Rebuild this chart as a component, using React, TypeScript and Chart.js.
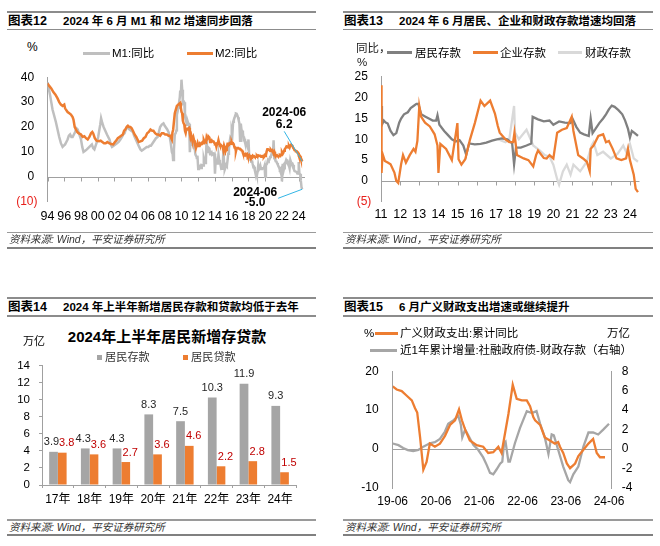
import { useEffect, useRef } from 'react';
import { Chart, registerables } from 'chart.js';

Chart.register(...registerables);

const FONT = '"Liberation Sans", Arial, "Noto Sans CJK SC", sans-serif';
const ORANGE = '#ED7D31';
const AXIS = '#A0A0A0';
const RED = '#E8201B';
const DARKRED = '#C00000';
const CYAN = '#33B5E5';

// ---------------- Panel 12: M1 / M2 ----------------
const p12Num = '图表12';
const p12Title = '2024 年 6 月 M1 和 M2 增速同步回落';
const m1Label = 'M1:同比';
const m2Label = 'M2:同比';
const p12XTicks = [1994, 1996, 1998, 2000, 2002, 2004, 2006, 2008, 2010, 2012, 2014, 2016, 2018, 2020, 2022, 2024];
const p12YTicks = [-10, 0, 10, 20, 30, 40];
const lastDateLabel = '2024-06';

const m1EarlyDates = [1994.0, 1994.15, 1994.3, 1994.45, 1994.6, 1994.8, 1995.0, 1995.2, 1995.4, 1995.6, 1995.8, 1995.95, 1996.1, 1996.25, 1996.4, 1996.55, 1996.7, 1996.85, 1997.0, 1997.15, 1997.3, 1997.45, 1997.6, 1997.8, 1998.0, 1998.15, 1998.3, 1998.5, 1998.7, 1998.85, 1999.0, 1999.15, 1999.3, 1999.45, 1999.6, 1999.75, 1999.9, 2000.05, 2000.15, 2000.3, 2000.4, 2000.55, 2000.7, 2000.9, 2001.1, 2001.25, 2001.4, 2001.55, 2001.7, 2001.9, 2002.1, 2002.3, 2002.5, 2002.7, 2002.9, 2003.05, 2003.2, 2003.35, 2003.5, 2003.65, 2003.8, 2004.0, 2004.2, 2004.35, 2004.55, 2004.75, 2004.95, 2005.1, 2005.25, 2005.45, 2005.65, 2005.85, 2006.05, 2006.2, 2006.35, 2006.55, 2006.75, 2006.95, 2007.15, 2007.3, 2007.45, 2007.65, 2007.85, 2008.0, 2008.1, 2008.3, 2008.45, 2008.6, 2008.7, 2008.85, 2008.95, 2009.0, 2009.1, 2009.2, 2009.3, 2009.4, 2009.45, 2009.55, 2009.6, 2009.7, 2009.8, 2009.85, 2009.92];
const m1EarlyValues = [38, 35.5, 33, 30, 27, 24.5, 22, 19, 16, 13.5, 12, 12.5, 13, 14, 15, 16.5, 17, 16, 16, 17, 18, 19.5, 19, 17, 15, 12, 10, 10.5, 11, 11.5, 12, 12.5, 13, 11.5, 11, 12.5, 14, 16, 18, 21, 23.5, 21.5, 20, 18.5, 17, 16, 15, 13, 12, 12.5, 13, 13.5, 14, 15, 16, 17, 17.5, 19, 20, 19.5, 19, 18.5, 18, 16.5, 15, 13.5, 12, 11, 10.5, 11, 11.5, 12, 12, 12.5, 12.5, 13.5, 14.5, 15.5, 16, 18, 20, 21, 21.5, 20.5, 20, 19, 18, 16, 14, 10, 9, 6.7, 10.9, 17, 17.5, 18.7, 24.8, 26.4, 27.7, 29.5, 32, 34.6, 32.4];
// monthly, Jan 2010 - Jun 2024
const m1Monthly = [
  39.0, 35.0, 29.9, 30.4, 29.9, 24.6, 22.9, 21.9, 20.9, 22.1, 21.2, 21.2,
  9.9, 14.5, 15.0, 12.9, 12.7, 13.1, 11.6, 11.2, 8.9, 8.4, 7.8, 7.9,
  3.1, 4.3, 4.4, 3.5, 3.5, 4.7, 4.6, 4.5, 7.3, 6.1, 5.5, 6.5,
  15.3, 9.5, 11.9, 11.9, 11.3, 9.1, 9.7, 9.9, 8.9, 8.9, 9.4, 9.3,
  1.2, 6.9, 5.4, 5.3, 5.7, 8.9, 6.7, 5.7, 4.8, 3.2, 3.2, 3.2,
  10.6, 5.6, 2.9, 3.7, 4.7, 4.3, 6.6, 9.3, 11.4, 14.0, 15.7, 15.2,
  18.6, 17.4, 22.1, 22.9, 23.7, 24.6, 25.4, 25.3, 24.7, 23.9, 22.7, 21.4,
  14.5, 21.4, 18.8, 18.5, 17.7, 15.0, 15.3, 14.0, 14.0, 13.0, 12.7, 11.8,
  15.0, 8.5, 7.1, 7.2, 6.0, 6.6, 5.1, 3.9, 4.0, 2.7, 1.5, 1.5,
  0.4, 2.0, 4.6, 2.9, 3.4, 4.4, 3.1, 3.4, 3.4, 3.3, 3.5, 4.4,
  0.0, 4.8, 5.0, 5.5, 6.8, 6.5, 6.9, 8.0, 8.1, 9.1, 10.0, 8.6,
  14.7, 7.4, 7.1, 6.2, 6.1, 5.5, 4.9, 4.2, 3.7, 2.8, 3.0, 3.5,
  -1.9, 4.7, 4.7, 5.1, 4.6, 5.8, 6.7, 6.1, 6.4, 5.8, 4.6, 3.7,
  6.7, 5.8, 5.1, 5.3, 4.7, 3.1, 2.3, 2.2, 2.1, 1.9, 1.3, 1.3,
  5.9, 1.2, 1.1, -1.4, -4.2, -5.0,
];

const m2EarlyDates = [1994.0, 1994.2, 1994.45, 1994.7, 1994.95, 1995.2, 1995.4, 1995.6, 1995.8, 1996.0, 1996.1, 1996.4, 1996.6, 1996.8, 1997.0, 1997.1, 1997.25, 1997.4, 1997.55, 1997.7, 1998.0, 1998.2, 1998.4, 1998.6, 1998.8, 1999.0, 1999.2, 1999.35, 1999.45, 1999.65, 1999.85, 2000.15, 2000.35, 2000.55, 2000.75, 2000.95, 2001.15, 2001.35, 2001.6, 2001.85, 2002.05, 2002.2, 2002.4, 2002.6, 2002.8, 2003.0, 2003.15, 2003.3, 2003.45, 2003.6, 2003.75, 2003.9, 2004.05, 2004.2, 2004.4, 2004.6, 2004.75, 2004.9, 2005.1, 2005.3, 2005.5, 2005.7, 2005.9, 2006.1, 2006.3, 2006.5, 2006.65, 2006.85, 2007.05, 2007.25, 2007.45, 2007.65, 2007.85, 2008.05, 2008.25, 2008.45, 2008.65, 2008.85, 2008.92, 2009.0, 2009.2, 2009.45, 2009.7, 2009.85, 2009.92];
const m2EarlyValues = [37.5, 36.5, 35.5, 34, 33, 31.5, 30, 29, 28.5, 29, 27.5, 26, 25.5, 25, 24, 23, 20, 19, 18, 17.5, 17, 16, 16.3, 15.5, 15, 16, 17.5, 18, 17.5, 15.5, 14.5, 14.3, 14.5, 14, 13.5, 13.5, 14, 13.5, 13.2, 13, 14, 14.5, 15.5, 16, 16.5, 17, 18.5, 19, 20, 20.5, 20, 20, 19.5, 18.5, 17, 16, 15, 14, 14.2, 14.5, 15.5, 16, 17.5, 18, 19, 18.5, 18.5, 17.5, 17, 17, 16.5, 17.5, 17.5, 17, 17, 16.5, 16.5, 15, 17.8, 18.8, 25.5, 28.5, 29.3, 29.7, 27.7];
const m2Monthly = [
  26.1, 25.5, 22.5, 21.5, 21.0, 18.5, 17.6, 19.2, 19.0, 19.3, 19.5, 19.7,
  17.2, 15.7, 16.6, 15.3, 15.1, 15.9, 14.7, 13.5, 13.0, 12.9, 12.7, 13.6,
  12.4, 13.0, 13.4, 12.8, 13.2, 13.6, 13.9, 13.5, 14.8, 14.1, 13.9, 13.8,
  15.9, 15.2, 15.7, 16.1, 15.8, 14.0, 14.5, 14.7, 14.2, 14.3, 14.2, 13.6,
  13.2, 13.3, 12.1, 13.2, 13.4, 14.7, 13.5, 12.8, 12.9, 12.6, 12.3, 12.2,
  10.8, 12.5, 11.6, 10.1, 10.8, 11.8, 13.3, 13.3, 13.1, 13.5, 13.7, 13.3,
  14.0, 13.3, 13.4, 12.8, 11.8, 11.8, 10.2, 11.4, 11.5, 11.6, 11.4, 11.3,
  11.3, 11.1, 10.6, 10.5, 9.6, 9.4, 9.2, 8.9, 9.2, 8.8, 9.1, 8.2,
  8.6, 8.8, 8.2, 8.3, 8.3, 8.0, 8.5, 8.2, 8.3, 8.0, 8.0, 8.1,
  8.4, 8.0, 8.6, 8.5, 8.5, 8.5, 8.1, 8.2, 8.4, 8.4, 8.2, 8.7,
  8.4, 8.8, 10.1, 11.1, 11.1, 11.1, 10.7, 10.4, 10.9, 10.5, 10.7, 10.1,
  9.4, 10.1, 9.4, 8.1, 8.3, 8.6, 8.3, 8.2, 8.3, 8.7, 8.5, 9.0,
  9.8, 9.2, 9.7, 10.5, 11.1, 11.4, 12.0, 12.2, 12.1, 11.8, 12.4, 11.8,
  12.6, 12.9, 12.7, 12.4, 11.6, 11.3, 10.7, 10.6, 10.3, 10.3, 10.0, 9.7,
  8.7, 8.7, 8.3, 7.2, 7.0, 6.2,
];
const monthlyStartYear = 2010;

// ---------------- Panel 13: deposits by sector ----------------
const p13Num = '图表13';
const p13Title = '2024 年 6 月居民、企业和财政存款增速均回落';
const hhLabel = '居民存款';
const corpLabel = '企业存款';
const fiscLabel = '财政存款';
const p13XTicks = [2011, 2012, 2013, 2014, 2015, 2016, 2017, 2018, 2019, 2020, 2021, 2022, 2023, 2024];
const p13YTicks = [-5, 0, 5, 10, 15, 20, 25];

const hhDates = [2011.0, 2011.05, 2011.15, 2011.25, 2011.35, 2011.5, 2011.65, 2011.8, 2011.95, 2012.05, 2012.2, 2012.4, 2012.55, 2012.7, 2012.85, 2012.95, 2013.1, 2013.3, 2013.5, 2013.7, 2013.88, 2013.95, 2014.05, 2014.3, 2014.5, 2014.7, 2014.9, 2015.1, 2015.3, 2015.45, 2015.6, 2015.9, 2016.2, 2016.5, 2016.8, 2017.05, 2017.3, 2017.6, 2017.85, 2017.95, 2018.05, 2018.3, 2018.6, 2018.85, 2018.92, 2019.2, 2019.5, 2019.8, 2020.0, 2020.3, 2020.6, 2020.9, 2021.0, 2021.2, 2021.4, 2021.6, 2021.85, 2021.95, 2022.05, 2022.2, 2022.4, 2022.6, 2022.75, 2022.9, 2023.05, 2023.2, 2023.4, 2023.6, 2023.75, 2023.9, 2024.0, 2024.1, 2024.25, 2024.42];
const hhValues = [18, 13.5, 14.5, 14, 13.8, 12, 11, 11.5, 14, 15, 16, 16.5, 17.5, 18, 18.5, 18.5, 16, 15.5, 15, 14.5, 14.5, 15.8, 13.5, 12, 11, 10, 9.5, 9.8, 8.5, 6.3, 9, 8.8, 8.9, 9.2, 9.7, 10, 10.2, 10, 9, 4, 8, 8, 8.5, 9, 15.4, 14.8, 14.3, 14.5, 13.5, 14.3, 14, 13.9, 15, 13, 11.6, 11.2, 10.8, 15, 11.5, 12.5, 13.9, 15, 16, 17.2, 18.1, 17.8, 17, 16, 14.5, 12.5, 10.4, 12, 11.5, 10.8];

const corpDates = [2011.0, 2011.03, 2011.08, 2011.2, 2011.35, 2011.5, 2011.7, 2011.8, 2011.9, 2012.05, 2012.15, 2012.3, 2012.5, 2012.7, 2012.8, 2012.9, 2013.0, 2013.1, 2013.3, 2013.55, 2013.8, 2013.95, 2014.0, 2014.1, 2014.4, 2014.7, 2014.99, 2015.05, 2015.2, 2015.4, 2015.65, 2015.9, 2016.2, 2016.4, 2016.7, 2016.95, 2017.1, 2017.2, 2017.5, 2017.7, 2017.9, 2017.97, 2018.1, 2018.45, 2018.7, 2018.95, 2019.1, 2019.2, 2019.5, 2019.65, 2019.8, 2020.0, 2020.2, 2020.45, 2020.7, 2020.96, 2021.05, 2021.3, 2021.55, 2021.75, 2021.9, 2021.95, 2022.1, 2022.35, 2022.6, 2022.75, 2022.9, 2023.1, 2023.3, 2023.55, 2023.8, 2023.9, 2024.0, 2024.2, 2024.3, 2024.42];
const corpValues = [23, 1.9, 6.5, 4.8, 4.4, 4, 2, 0, -0.5, 4, 6.2, 4.4, 6.2, 7.7, 7, 9.6, 18, 15.4, 14, 13.1, 11.2, 8.5, 1.9, 8.9, 7.7, 5, 13.9, 5.2, 3.9, 5.2, 10, 13.9, 19.3, 18, 19.3, 16.2, 13.2, 11.6, 10, 9.3, 9.3, 11.6, 6.2, 5.4, 5, 3.5, 6.2, 7.3, 5.5, 5.4, 6.2, 5.4, 11.6, 12.3, 12.7, 15.4, 12, 6.2, 5.4, 4.6, 2.3, 7.7, 8.5, 10.8, 11.2, 9.3, 9.6, 7.7, 5.4, 5, 5.4, 7.7, 5, 1.5, -1.9, -2.7];

const fiscDates = [2017.1, 2017.5, 2017.7, 2017.95, 2018.0, 2018.2, 2018.6, 2018.95, 2019.3, 2019.55, 2019.8, 2020.0, 2020.2, 2020.3, 2020.5, 2020.7, 2020.9, 2021.05, 2021.4, 2021.75, 2022.0, 2022.1, 2022.3, 2022.6, 2023.0, 2023.35, 2023.65, 2023.8, 2024.0, 2024.2, 2024.42];
const fiscValues = [10, 9.3, 10, 18, 11.6, 10, 12.3, 8.5, 7.3, 6.2, 5.8, 3.9, 0.4, -0.9, 2.3, 3.9, 1.5, 3.9, 2.3, 4.6, 8.5, 9.3, 6.2, 7, 5.4, 6.5, 8.5, 7, 8.9, 5.4, 4.6];

// ---------------- Panel 14: household deposits & loans ----------------
const p14Num = '图表14';
const p14Title = '2024 年上半年新增居民存款和贷款均低于去年';
const p14ChartTitle = '2024年上半年居民新增存贷款';
const p14Unit = '万亿';
const p14Categories = ['17年', '18年', '19年', '20年', '21年', '22年', '23年', '24年'];
const depositLabel = '居民存款';
const loanLabel = '居民贷款';
const depositValues = [3.9, 4.3, 4.3, 8.3, 7.5, 10.3, 11.9, 9.3];
const loanValues = [3.8, 3.6, 2.7, 3.6, 4.6, 2.2, 2.8, 1.5];
const p14YTicks = [0, 2, 4, 6, 8, 10, 12, 14];

// ---------------- Panel 15: broad fiscal spending ----------------
const p15Num = '图表15';
const p15Title = '6 月广义财政支出增速或继续提升';
const fiscalLabel = '广义财政支出:累计同比';
const creditLabel = '近1年累计增量:社融政府债-财政存款（右轴）';
const p15XLabels = ['19-06', '20-06', '21-06', '22-06', '23-06', '24-06'];
const p15XTicks = [0, 12, 24, 36, 48, 60]; // months since 2019-06
const p15LeftTicks = [-10, 0, 10, 20];
const p15RightTicks = [-4, -2, 0, 2, 4, 6, 8];

const fiscalMonths = [0, 1.1, 2.5, 3.9, 5.3, 6.2, 6.8, 7.6, 8.5, 9.4, 10.3, 11.7, 13.1, 14.5, 15.9, 17.3, 18.4, 19.2, 20.1, 21.4, 23.3, 25.1, 26.5, 27.9, 29.3, 30.2, 32.1, 33.3, 34.4, 35.8, 37.2, 38.1, 39.0, 39.5, 40.9, 42.2, 43.6, 45.0, 45.9, 46.4, 47.3, 48.3, 49.2, 50.6, 51.5, 52.9, 54.3, 55.6, 56.6, 57.5, 58.9];
const fiscalYoY = [16.1, 15.3, 14.9, 13.7, 12.5, 10.5, 9.4, 3, -5.3, -3.3, 1.4, 0.6, 1.4, 3.4, 6.2, 7.4, 10.2, 7.4, 5, 2.2, 1, 0.6, -1, -0.8, 0.6, -1, 9, 16.5, 12.9, 12.5, 12.5, 11, 8.2, 7.4, 6.2, 3, 2.2, 1.4, 1.8, 0.6, -1, -3.7, -4.9, -3.7, -1.8, -0.2, 1.4, 2.6, -1, -2.1, -2.1];

const creditMonths = [0, 1.6, 2.9, 4.2, 5.7, 7.1, 8.5, 10.3, 11.7, 13.1, 14.5, 15.4, 16.8, 18.2, 18.9, 19.3, 20.1, 21.0, 22.4, 23.7, 25.1, 26.1, 27.0, 27.9, 28.8, 29.8, 30.4, 30.9, 31.3, 32.1, 32.5, 33.9, 35.3, 37.2, 38.6, 39.9, 40.9, 42.2, 43.2, 44.1, 44.7, 45.9, 47.3, 48.7, 49.2, 50.1, 51.5, 52.9, 54.3, 55.6, 57.0, 58.4, 60];
const creditNet = [0.57, 0.4, 0.1, -0.1, -0.2, -0.1, 0.25, 0.6, 0.7, 1.05, 1.8, 2.6, 2.95, 3.4, 2.5, 1.2, 2.0, 1.4, 0.4, -0.07, -0.86, -1.65, -2.45, -2.6, -2.1, -1.5, -1.3, 0.6, 0.75, -1.3, -1.3, 0.6, 2.15, 3.9, 3.7, 3.9, 2.6, 1.2, -0.5, 1.5, 1.4, -0.07, -1.8, -3.2, -3.4, -2.6, -1.8, 0.26, 1.7, 1.7, 1.5, 2.0, 2.6];

const sourceText = '资料来源: Wind，平安证券研究所';

// ---------------- helpers ----------------
const pts = (xs: number[], ys: number[]) => xs.map((x, i) => ({ x, y: ys[i] }));
const monthlyPts = (start: number, ys: number[]) => ys.map((y, i) => ({ x: start + i / 12, y }));

const setTicks = (vals: number[]) => (s: any) => {
  s.ticks = vals.map((v) => ({ value: v }));
};

const baseOpts = () => ({
  responsive: false,
  maintainAspectRatio: false,
  animation: false as const,
  events: [] as any[],
});

const zeroLinePlugin = {
  id: 'zeroLine',
  beforeDatasetsDraw(chart: any, _a: any, opts: any) {
    const { ctx, chartArea } = chart;
    const ys = chart.scales[opts.yAxis || 'y'];
    const y = Math.round(ys.getPixelForValue(0)) + 0.5;
    ctx.save();
    ctx.strokeStyle = opts.color || AXIS;
    ctx.lineWidth = 1;
    ctx.beginPath();
    ctx.moveTo(chartArea.left, y);
    ctx.lineTo(chartArea.right, y);
    if (opts.tickLength) {
      const xs = chart.scales.x;
      for (const t of xs.ticks) {
        const x = Math.round(xs.getPixelForValue(t.value)) + 0.5;
        ctx.moveTo(x, y);
        ctx.lineTo(x, y + opts.tickLength);
      }
    }
    ctx.stroke();
    ctx.restore();
  },
};

const p12AnnotPlugin = {
  id: 'p12Annot',
  afterDatasetsDraw(chart: any) {
    const { ctx } = chart;
    const xs = chart.scales.x;
    const ys = chart.scales.y;
    const lastX = monthlyStartYear + (m2Monthly.length - 1) / 12;
    const m2Last = m2Monthly[m2Monthly.length - 1];
    const m1Last = m1Monthly[m1Monthly.length - 1];
    const px = xs.getPixelForValue(lastX);
    const p2 = ys.getPixelForValue(m2Last);
    const p1 = ys.getPixelForValue(m1Last);
    ctx.save();
    ctx.strokeStyle = CYAN;
    ctx.lineWidth = 1;
    ctx.beginPath();
    ctx.moveTo(px, p2);
    ctx.lineTo(px - 18, p2 - 30);
    ctx.moveTo(px, p1);
    ctx.lineTo(px - 24, p1 + 9);
    ctx.stroke();
    ctx.fillStyle = '#000';
    ctx.font = `bold 12px ${FONT}`;
    ctx.textAlign = 'center';
    ctx.textBaseline = 'middle';
    ctx.fillText(lastDateLabel, px - 18, p2 - 48.5);
    ctx.fillText(m2Last.toFixed(1), px - 18, p2 - 36.5);
    ctx.fillText(lastDateLabel, px - 47, p1 + 3.5);
    ctx.fillText(m1Last.toFixed(1), px - 47, p1 + 13.5);
    ctx.restore();
  },
};

const barLabelPlugin = {
  id: 'barLabels',
  afterDatasetsDraw(chart: any) {
    const { ctx } = chart;
    const meta0 = chart.getDatasetMeta(0);
    const meta1 = chart.getDatasetMeta(1);
    const d0 = chart.data.datasets[0].data;
    const d1 = chart.data.datasets[1].data;
    ctx.save();
    ctx.font = `11px ${FONT}`;
    ctx.textAlign = 'center';
    ctx.textBaseline = 'bottom';
    meta0.data.forEach((b0: any, i: number) => {
      const b1 = meta1.data[i];
      const t0 = Number(d0[i]).toFixed(1);
      const t1 = Number(d1[i]).toFixed(1);
      const w0 = ctx.measureText(t0).width;
      const w1 = ctx.measureText(t1).width;
      const x1 = b1.x + 4.5;
      let x0 = b0.x;
      const overlap = x0 + w0 / 2 - (x1 - w1 / 2);
      if (overlap > 0 && Math.abs(b0.y - b1.y) < 12) x0 -= overlap;
      ctx.fillStyle = '#262626';
      ctx.fillText(t0, x0, b0.y - 4);
      ctx.fillStyle = DARKRED;
      ctx.fillText(t1, x1, b1.y - 4);
    });
    ctx.restore();
  },
};

// ---------------- chart configs ----------------
const makeP12 = (): any => ({
  type: 'line',
  data: {
    datasets: [
      {
        label: m2Label,
        data: [...pts(m2EarlyDates, m2EarlyValues), ...monthlyPts(monthlyStartYear, m2Monthly)],
        borderColor: ORANGE,
        borderWidth: 2.5,
        pointRadius: 0,
        order: 0,
      },
      {
        label: m1Label,
        data: [...pts(m1EarlyDates, m1EarlyValues), ...monthlyPts(monthlyStartYear, m1Monthly)],
        borderColor: '#BFBFBF',
        borderWidth: 2.5,
        pointRadius: 0,
        order: 1,
      },
    ],
  },
  options: {
    ...baseOpts(),
    layout: { padding: { left: 0, right: 25, top: 9, bottom: 0 } },
    plugins: {
      legend: { display: false },
      tooltip: { enabled: false },
      zeroLine: { color: AXIS, tickLength: 4 },
    },
    scales: {
      x: {
        type: 'linear',
        min: 1994,
        max: 2024.75,
        afterBuildTicks: setTicks(p12XTicks),
        afterFit: (s: any) => { s.height = 33.3; },
        grid: { display: false, drawTicks: false },
        border: { display: false },
        ticks: {
          autoSkip: false,
          maxRotation: 0,
          padding: 7,
          color: '#000',
          font: { family: FONT, size: 12.5 },
          callback: (v: number) => String(v % 100).padStart(2, '0'),
        },
      },
      y: {
        min: -10,
        max: 40,
        afterBuildTicks: setTicks(p12YTicks),
        afterFit: (s: any) => { s.width = 47.5; },
        grid: { display: false, drawTicks: false },
        border: { display: true, color: AXIS },
        ticks: {
          padding: 10,
          color: (c: any) => (c.tick && c.tick.value < 0 ? RED : '#000'),
          font: { family: FONT, size: 12 },
          callback: (v: number) => (v < 0 ? `(${Math.abs(v)})` : `${v} `),
        },
      },
    },
  },
  plugins: [zeroLinePlugin, p12AnnotPlugin],
});

const makeP13 = (): any => ({
  type: 'line',
  data: {
    datasets: [
      { label: corpLabel, data: pts(corpDates, corpValues), borderColor: ORANGE, borderWidth: 2.3, pointRadius: 0, order: 0 },
      { label: hhLabel, data: pts(hhDates, hhValues), borderColor: '#808080', borderWidth: 2.3, pointRadius: 0, order: 1 },
      { label: fiscLabel, data: pts(fiscDates, fiscValues), borderColor: '#D9D9D9', borderWidth: 2.3, pointRadius: 0, order: 2 },
    ],
  },
  options: {
    ...baseOpts(),
    layout: { padding: { left: 0, right: 20.5, top: 11.7, bottom: 0 } },
    plugins: {
      legend: { display: false },
      tooltip: { enabled: false },
      zeroLine: { color: AXIS, tickLength: 4 },
    },
    scales: {
      x: {
        type: 'linear',
        min: 2011,
        max: 2024.5,
        afterBuildTicks: setTicks(p13XTicks),
        afterFit: (s: any) => { s.height = 33.3; },
        grid: { display: false, drawTicks: false },
        border: { display: false },
        ticks: {
          autoSkip: false,
          maxRotation: 0,
          padding: 5.8,
          color: '#000',
          font: { family: FONT, size: 12.5 },
          callback: (v: number) => String(v % 100).padStart(2, '0'),
        },
      },
      y: {
        min: -5,
        max: 25,
        afterBuildTicks: setTicks(p13YTicks),
        afterFit: (s: any) => { s.width = 51; },
        grid: { display: false, drawTicks: false },
        border: { display: true, color: AXIS },
        ticks: {
          padding: 9.7,
          color: (c: any) => (c.tick && c.tick.value < 0 ? RED : '#000'),
          font: { family: FONT, size: 12 },
          callback: (v: number) => (v < 0 ? `(${Math.abs(v)})` : `${v} `),
        },
      },
    },
  },
  plugins: [zeroLinePlugin],
});

const makeP14 = (): any => ({
  type: 'bar',
  data: {
    labels: p14Categories,
    datasets: [
      { label: depositLabel, data: depositValues, backgroundColor: '#A5A5A5', categoryPercentage: 0.55, barPercentage: 1 },
      { label: loanLabel, data: loanValues, backgroundColor: ORANGE, categoryPercentage: 0.55, barPercentage: 1 },
    ],
  },
  options: {
    ...baseOpts(),
    layout: { padding: { left: 0, right: 34, top: 11, bottom: 0 } },
    plugins: { legend: { display: false }, tooltip: { enabled: false } },
    scales: {
      x: {
        afterFit: (s: any) => { s.height = 33; },
        grid: { display: true, drawOnChartArea: false, drawTicks: true, tickLength: 3, color: AXIS },
        border: { display: true, color: AXIS },
        ticks: { autoSkip: false, maxRotation: 0, padding: 4.5, color: '#000', font: { family: FONT, size: 12 } },
      },
      y: {
        min: 0,
        max: 14,
        afterBuildTicks: setTicks(p14YTicks),
        afterFit: (s: any) => { s.width = 42; },
        grid: { display: true, drawOnChartArea: false, drawTicks: true, tickLength: 3, color: AXIS },
        border: { display: true, color: AXIS },
        ticks: { padding: 9, color: '#000', font: { family: FONT, size: 11.5 } },
      },
    },
  },
  plugins: [barLabelPlugin],
});

const makeP15 = (): any => ({
  type: 'line',
  data: {
    datasets: [
      { label: fiscalLabel, data: pts(fiscalMonths, fiscalYoY), borderColor: ORANGE, borderWidth: 2.3, pointRadius: 0, yAxisID: 'y', order: 0 },
      { label: creditLabel, data: pts(creditMonths, creditNet), borderColor: '#A6A6A6', borderWidth: 2.3, pointRadius: 0, yAxisID: 'y1', order: 1 },
    ],
  },
  options: {
    ...baseOpts(),
    layout: { padding: { left: 0, right: 18.3, top: 12, bottom: 0 } },
    plugins: {
      legend: { display: false },
      tooltip: { enabled: false },
      zeroLine: { color: AXIS, tickLength: 0, yAxis: 'y' },
    },
    scales: {
      x: {
        type: 'linear',
        min: 0,
        max: 60.75,
        afterBuildTicks: setTicks(p15XTicks),
        afterFit: (s: any) => { s.height = 30; },
        grid: { display: false, drawTicks: false },
        border: { display: false },
        ticks: {
          autoSkip: false,
          maxRotation: 0,
          padding: 6.8,
          color: '#000',
          font: { family: FONT, size: 12 },
          callback: (v: number) => p15XLabels[p15XTicks.indexOf(v)] ?? '',
        },
      },
      y: {
        position: 'left',
        min: -10,
        max: 20,
        afterBuildTicks: setTicks(p15LeftTicks),
        afterFit: (s: any) => { s.width = 62.7; },
        grid: { display: false, drawTicks: false },
        border: { display: true, color: AXIS },
        ticks: { padding: 14, color: '#000', font: { family: FONT, size: 12 } },
      },
      y1: {
        position: 'right',
        min: -4,
        max: 8,
        afterBuildTicks: setTicks(p15RightTicks),
        afterFit: (s: any) => { s.width = 30; },
        grid: { display: false, drawTicks: false },
        border: { display: true, color: AXIS },
        ticks: { padding: 10, color: '#000', font: { family: FONT, size: 12 } },
      },
    },
  },
  plugins: [zeroLinePlugin],
});

// ---------------- components ----------------
function ChartCanvas({ make, left, top, width, height }: any) {
  const ref = useRef<HTMLCanvasElement>(null);
  useEffect(() => {
    const chart = new Chart(ref.current as HTMLCanvasElement, make());
    return () => chart.destroy();
  }, []);
  return <canvas ref={ref} width={width} height={height} style={{ position: 'absolute', left, top, width, height }} />;
}

function T({ x, y, size = 12, bold = false, italic = false, color = '#000', right = false, children }: any) {
  const lh = Math.round(size * 1.4);
  const style: any = {
    position: 'absolute',
    top: y - lh / 2,
    lineHeight: `${lh}px`,
    fontSize: size,
    fontFamily: FONT,
    fontWeight: bold ? 700 : 400,
    fontStyle: italic ? 'italic' : 'normal',
    color,
    whiteSpace: 'nowrap',
  };
  if (right) style.right = 660 - x;
  else style.left = x;
  return <div style={style}>{children}</div>;
}

function Rule({ x, y, w, h = 2, color = '#8C8C8C' }: any) {
  return <div style={{ position: 'absolute', left: x, top: y, width: w, height: h, background: color }} />;
}

function Header({ x, w, y, num, title }: any) {
  return (
    <>
      <Rule x={x} y={y - 10} w={w} />
      <T x={x + 1} y={y} size={12.5} bold>{num}</T>
      <T x={x + 56} y={y} size={11.5} bold>{title}</T>
      <Rule x={x} y={y + 8} w={w} h={1.5} />
    </>
  );
}

function Source({ x, w, y }: any) {
  return (
    <>
      <Rule x={x} y={y - 8} w={w} h={1.5} color="#9A9A9A" />
      <T x={x + 2} y={y} size={10.5} italic color="#333">{sourceText}</T>
      <Rule x={x} y={y + 7} w={w} h={2} color="#808080" />
    </>
  );
}

function LegLine({ x, y, w, color, h = 3 }: any) {
  return <div style={{ position: 'absolute', left: x, top: y - h / 2, width: w, height: h, background: color }} />;
}

export default function App() {
  return (
    <div style={{ position: 'fixed', left: 0, top: 0, width: 660, height: 546, background: '#fff', overflow: 'hidden' }}>
      {/* Panel 12 */}
      <Header x={7} w={309} y={20.5} num={p12Num} title={p12Title} />
      <ChartCanvas make={makeP12} left={0} top={60} width={330} height={175} />
      <T x={27} y={47} size={12}>%</T>
      <LegLine x={83} y={53.3} w={27} color="#BFBFBF" />
      <T x={112} y={53.3} size={11.5}>{m1Label}</T>
      <LegLine x={187} y={53.3} w={26} color={ORANGE} />
      <T x={215} y={53.3} size={11.5}>{m2Label}</T>
      <Source x={7} w={309} y={239.5} />

      {/* Panel 13 */}
      <Header x={343} w={310} y={20.5} num={p13Num} title={p13Title} />
      <ChartCanvas make={makeP13} left={330} top={60} width={330} height={175} />
      <T x={356} y={47.5} size={11.5} color="#222">同比，</T>
      <T x={357} y={61.5} size={11.5} color="#222">%</T>
      <LegLine x={387} y={52.7} w={25} color="#808080" />
      <T x={415} y={52.7} size={11.5}>{hhLabel}</T>
      <LegLine x={473} y={52.7} w={25} color={ORANGE} />
      <T x={500} y={52.7} size={11.5}>{corpLabel}</T>
      <LegLine x={558} y={52.7} w={24} color="#D9D9D9" />
      <T x={585} y={52.7} size={11.5}>{fiscLabel}</T>
      <Source x={343} w={310} y={239.5} />

      {/* Panel 14 */}
      <Header x={7} w={309} y={307} num={p14Num} title={p14Title} />
      <ChartCanvas make={makeP14} left={0} top={350} width={330} height={168} />
      <div style={{ position: 'absolute', left: 2, top: 326, width: 330, textAlign: 'center', lineHeight: '22px', fontSize: 15, fontWeight: 700, fontFamily: FONT, color: '#000' }}>{p14ChartTitle}</div>
      <T x={23} y={341.7} size={11}>{p14Unit}</T>
      <div style={{ position: 'absolute', left: 97, top: 354.5, width: 5, height: 5, background: '#A5A5A5' }} />
      <T x={105} y={357} size={11.2} color="#333">{depositLabel}</T>
      <div style={{ position: 'absolute', left: 183, top: 354.5, width: 5, height: 5, background: ORANGE }} />
      <T x={191} y={357} size={11.2} color="#333">{loanLabel}</T>
      <Source x={7} w={309} y={527} />

      {/* Panel 15 */}
      <Header x={343} w={310} y={307} num={p15Num} title={p15Title} />
      <ChartCanvas make={makeP15} left={330} top={350} width={330} height={168} />
      <T x={364} y={333} size={11.5}>%</T>
      <LegLine x={375} y={333} w={23} color={ORANGE} />
      <T x={400} y={333} size={11.5}>{fiscalLabel}</T>
      <T x={630} y={333} size={11.5} right>万亿</T>
      <LegLine x={370} y={350} w={27} color="#A6A6A6" />
      <T x={400} y={350} size={11.5}>{creditLabel}</T>
      <Source x={343} w={310} y={527} />
    </div>
  );
}
